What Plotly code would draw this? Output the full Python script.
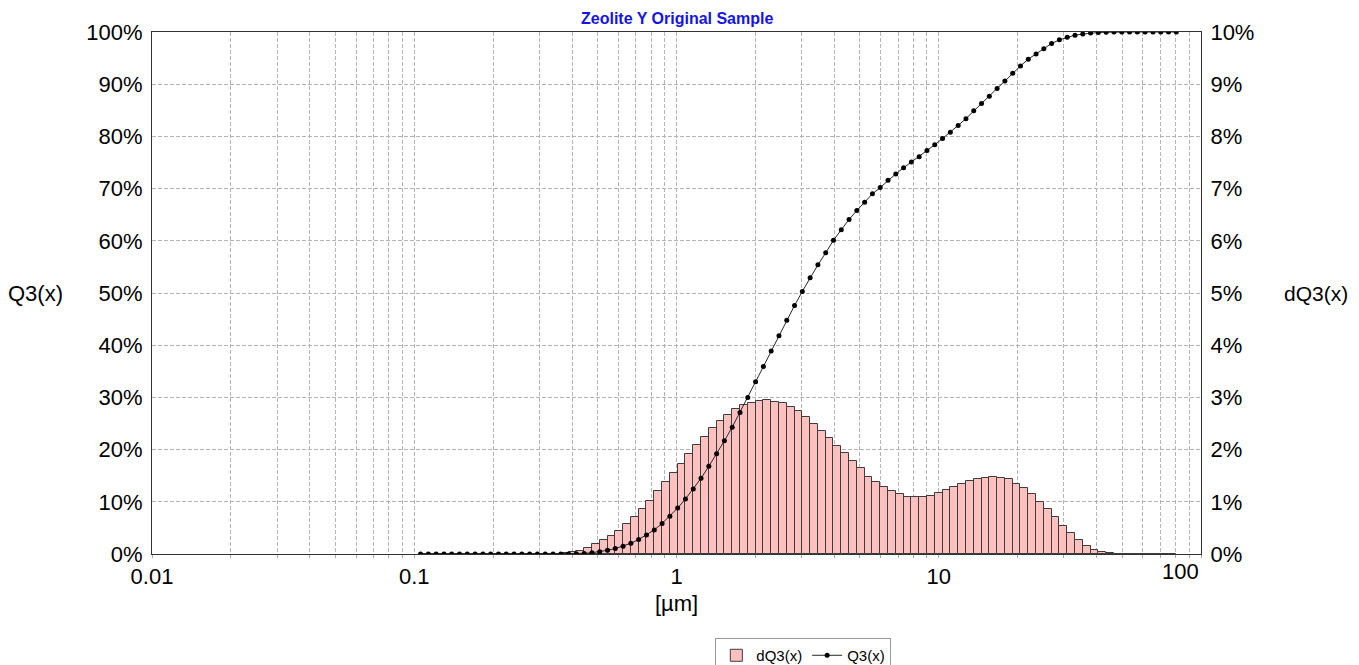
import plotly.graph_objects as go

# Particle size class boundaries [µm] (upper edges, where Q3 is sampled)
size_um = [
    0.1057, 0.1132, 0.1212, 0.1298, 0.1389, 0.1488, 0.1593, 0.1706, 0.1827, 0.1956,
    0.2095, 0.2243, 0.2402, 0.2572, 0.2754, 0.2949, 0.3158, 0.3382, 0.3621, 0.3877,
    0.4150, 0.4444, 0.4759, 0.5096, 0.5457, 0.5843, 0.6257, 0.6700, 0.7174, 0.7682,
    0.8228, 0.8811, 0.9435, 1.0103, 1.0818, 1.1584, 1.2404, 1.3282, 1.4222, 1.5229,
    1.6310, 1.7465, 1.8701, 2.0025, 2.1443, 2.2961, 2.4586, 2.6327, 2.8190, 3.0186,
    3.232, 3.461, 3.706, 3.968, 4.249, 4.550, 4.872, 5.217, 5.587, 5.982,
    6.406, 6.859, 7.345, 7.865, 8.422, 9.018, 9.657, 10.340, 11.072, 11.856,
    12.697, 13.596, 14.559, 15.590, 16.693, 17.875, 19.141, 20.496, 21.947, 23.501,
    25.16, 26.94, 28.85, 30.89, 33.08, 35.42, 37.93, 40.61, 43.49, 46.57,
    49.88, 53.41, 57.19, 61.24, 65.58, 70.22, 75.19, 80.52,
]

# Cumulative distribution Q3(x) [%] at each boundary
q3 = [
    0, 0, 0, 0, 0, 0, 0, 0, 0, 0,
    0, 0, 0, 0, 0, 0, 0, 0, 0, 0.01,
    0.04, 0.10, 0.25, 0.42, 0.72, 1.05, 1.5, 2.05, 2.78, 3.65,
    4.62, 5.85, 7.25, 8.8, 10.55, 12.45, 14.5, 16.8, 19.2, 21.7,
    24.3, 27.1, 30.0, 33.0, 35.9, 38.9, 41.8, 44.8, 47.6, 50.3,
    52.9, 55.4, 57.7, 60.1, 62.1, 64.1, 65.8, 67.4, 69.0, 70.2,
    71.6, 72.8, 74.0, 75.1, 76.1, 77.3, 78.4, 79.6, 80.8, 82.1,
    83.4, 84.9, 86.3, 87.7, 89.2, 90.6, 92.1, 93.5, 94.8, 95.8,
    96.8, 97.8, 98.5, 99.0, 99.4, 99.6, 99.8, 99.9, 99.95, 100,
    100, 100, 100, 100, 100, 100, 100, 100,
]

# Class frequency dQ3(x) [%] for each class (between consecutive boundaries)
dq3 = [
    0, 0, 0, 0, 0, 0, 0, 0, 0,
    0, 0, 0, 0, 0, 0, 0, 0, 0, 0.01,
    0.03, 0.06, 0.11, 0.19, 0.26, 0.34, 0.44, 0.57, 0.71, 0.86,
    1.01, 1.20, 1.37, 1.55, 1.72, 1.92, 2.08, 2.25, 2.41, 2.54,
    2.66, 2.77, 2.85, 2.90, 2.94, 2.95, 2.92, 2.89, 2.82, 2.73,
    2.62, 2.50, 2.36, 2.22, 2.07, 1.93, 1.78, 1.64, 1.48, 1.38,
    1.29, 1.21, 1.14, 1.10, 1.09, 1.09, 1.12, 1.16, 1.22, 1.28,
    1.34, 1.39, 1.43, 1.46, 1.47, 1.45, 1.43, 1.35, 1.26, 1.14,
    1.00, 0.86, 0.70, 0.54, 0.40, 0.26, 0.16, 0.08, 0.04, 0.01,
    0, 0, 0, 0, 0, 0, 0, 0,
]

decades = [0.01, 0.1, 1, 10]
decade_labels = ["0.01", "0.1", "1", "10"]
left_ticks = list(range(0, 101, 10))
right_ticks = list(range(0, 11, 1))

FONT = "Arial, Liberation Sans, sans-serif"
GRID = "#b4b4b4"

# class edges for bars
left_edges = size_um[:-1]
widths = [b - a for a, b in zip(size_um[:-1], size_um[1:])]

grid_vals = []
grid_text = []
for d, lab in zip(decades, decade_labels):
    for m in range(1, 10):
        grid_vals.append(d * m)
        grid_text.append(lab if m == 1 else "")
grid_vals.append(100)
grid_text.append("")

fig = go.Figure()
# bars on primary axis (drawn first / underneath), shown on the right side
fig.add_trace(go.Bar(
    x=left_edges, y=dq3, width=widths, offset=0,
    name="dQ3(x)", yaxis="y",
    marker=dict(color="rgb(255,192,192)", line=dict(color="rgb(60,60,60)", width=1)),
))
# cumulative curve on overlaying axis (drawn on top), shown on the left side
fig.add_trace(go.Scatter(
    x=size_um, y=q3, name="Q3(x)", mode="lines+markers", yaxis="y2",
    line=dict(color="rgb(40,40,40)", width=1),
    marker=dict(color="black", size=5),
))

fig.update_layout(
    width=1359, height=665,
    margin=dict(l=152, r=158, t=32, b=111, autoexpand=False),
    paper_bgcolor="white", plot_bgcolor="white",
    font=dict(family=FONT, color="black", size=22),
    bargap=0,
    showlegend=True,
    legend=dict(orientation="h", x=0.537, y=-0.161, xanchor="left", yanchor="top",
                bordercolor="#999999", borderwidth=1, font=dict(size=15),
                traceorder="normal"),
    xaxis=dict(
        type="log", range=[-2, 2],
        tickmode="array", tickvals=grid_vals, ticktext=grid_text,
        showgrid=True, gridcolor=GRID, griddash="4px,2px", gridwidth=1,
        showline=True, linecolor="#333333", linewidth=1, mirror=True,
        ticks="outside", ticklen=3, tickcolor="#aaaaaa",
        tickfont=dict(size=22), automargin=False,
        zeroline=False,
    ),
    yaxis=dict(
        range=[0, 10], side="right",
        tickmode="array", tickvals=right_ticks,
        ticktext=[f"{v}%" for v in right_ticks],
        showgrid=True, gridcolor=GRID, griddash="4px,2px", gridwidth=1,
        showline=True, linecolor="#333333", linewidth=1,
        ticks="", tickfont=dict(size=22), zeroline=False, automargin=False,
        ticklabelstandoff=4,
    ),
    yaxis2=dict(
        range=[0, 100], overlaying="y", side="left",
        tickmode="array", tickvals=left_ticks,
        ticktext=[f"{v}%" for v in left_ticks],
        showgrid=False, showline=True, linecolor="#333333", linewidth=1,
        ticks="", tickfont=dict(size=22), zeroline=False, automargin=False,
        ticklabelstandoff=4,
    ),
    annotations=[
        dict(text="<b>Zeolite Y Original Sample</b>", xref="paper", yref="paper",
             x=0.5, y=1.0, yshift=14, xanchor="center", yanchor="middle",
             showarrow=False, font=dict(size=16, color="rgb(20,20,230)", family=FONT)),
        dict(text="Q3(x)", xref="paper", yref="paper", x=-0.1106, y=0.5,
             xanchor="center", yanchor="middle", showarrow=False, font=dict(size=22)),
        dict(text="dQ3(x)", xref="paper", yref="paper", x=1.1096, y=0.5,
             xanchor="center", yanchor="middle", showarrow=False, font=dict(size=21)),
        dict(text="100", xref="x", yref="paper", x=2, y=0, xanchor="right",
             yanchor="top", yshift=-3, showarrow=False, font=dict(size=22)),
        dict(text="[µm]", xref="paper", yref="paper", x=0.5, y=0, yshift=-49,
             xanchor="center", yanchor="middle", showarrow=False, font=dict(size=22)),
    ],
)

fig.write_html("out.html", config={"displayModeBar": False},
               post_script="document.body.style.margin='0px';")
